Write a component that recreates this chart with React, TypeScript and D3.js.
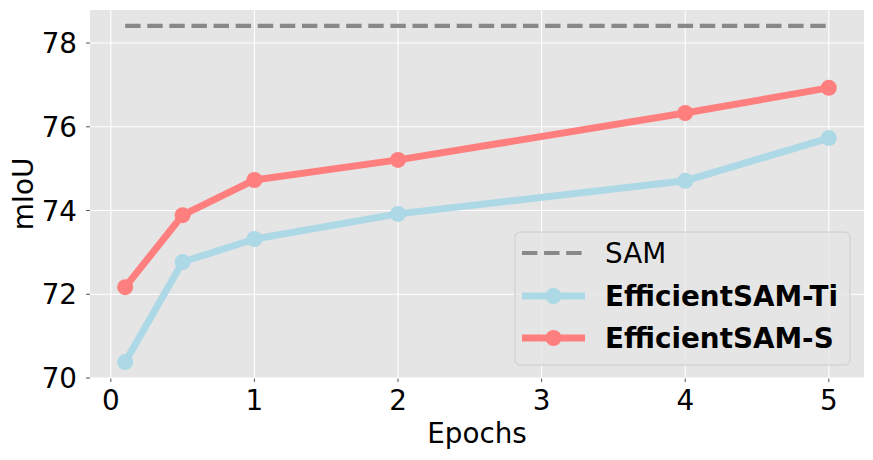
import React from "react";
import * as d3 from "d3";

const epochs = [0.1, 0.5, 1, 2, 4, 5];
const tiValues = [70.38, 72.77, 73.32, 73.92, 74.71, 75.73];
const sValues = [72.17, 73.89, 74.73, 75.21, 76.33, 76.93];
const samValue = 78.41;
const xTicks = [0, 1, 2, 3, 4, 5];
const yTicks = [70, 72, 74, 76, 78];

const W = 873, H = 460;
const L = 90, R = 864, T = 10, B = 378;

export default function App() {
  const x = d3.scaleLinear().domain([-0.145, 5.245]).range([L, R]);
  const y = d3.scaleLinear().domain([70, 78.79]).range([B, T]);
  const line = d3.line<number>().x((_, i) => x(epochs[i])).y((d) => y(d));
  const font = "DejaVu Sans, sans-serif";
  const series = [
    { name: "EfficientSAM-Ti", values: tiValues, color: "#add8e6" },
    { name: "EfficientSAM-S", values: sValues, color: "#ff7f7f" },
  ];
  return (
    <svg width={W} height={H} style={{ display: "block", position: "absolute", left: 0, top: 0 }} fontFamily={font}>
      <rect x={0} y={0} width={W} height={H} fill="#fff" />
      <rect x={L} y={T} width={R - L} height={B - T} fill="#e5e5e5" />
      {xTicks.map((t) => (
        <g key={"x" + t}>
          <line x1={x(t)} x2={x(t)} y1={T} y2={B} stroke="#fff" strokeWidth={1.1} />
          <line x1={x(t)} x2={x(t)} y1={B} y2={B + 4} stroke="#555" strokeWidth={1} />
          <text x={x(t)} y={410} textAnchor="middle" fontSize={27.8} fill="#000">{t}</text>
        </g>
      ))}
      {yTicks.map((t) => (
        <g key={"y" + t}>
          <line x1={L} x2={R} y1={y(t)} y2={y(t)} stroke="#fff" strokeWidth={1.1} />
          <line x1={L - 4} x2={L} y1={y(t)} y2={y(t)} stroke="#555" strokeWidth={1} />
          <text x={77} y={y(t)} dy="0.36em" textAnchor="end" fontSize={27.8} fill="#000">{t}</text>
        </g>
      ))}
      <line x1={x(0.1)} x2={x(5)} y1={y(samValue)} y2={y(samValue)} stroke="#888" strokeWidth={4.2} strokeDasharray="15.4 6.7" />
      {series.map((s) => (
        <g key={s.name}>
          <path d={line(s.values) || ""} fill="none" stroke={s.color} strokeWidth={7} strokeLinejoin="round" />
          {s.values.map((v, i) => (
            <circle key={i} cx={x(epochs[i])} cy={y(v)} r={8} fill={s.color} />
          ))}
        </g>
      ))}
      <text x={477} y={443} textAnchor="middle" fontSize={27.8} fill="#000">Epochs</text>
      <text transform={`translate(33,${(T + B) / 2}) rotate(-90)`} textAnchor="middle" fontSize={27.8} fill="#000">mIoU</text>
      <g>
        <rect x={515} y={232} width={335} height={133} rx={5} fill="#e5e5e5" fillOpacity={0.8} stroke="#cccccc" strokeWidth={1} />
        <line x1={522} x2={585} y1={253} y2={253} stroke="#888" strokeWidth={4.2} strokeDasharray="15.4 6.7" />
        <text x={605} y={253} dy="0.36em" fontSize={27.8} fill="#000">SAM</text>
        {series.map((s, i) => (
          <g key={"lg" + s.name}>
            <line x1={522} x2={585} y1={296 + i * 42} y2={296 + i * 42} stroke={s.color} strokeWidth={7} />
            <circle cx={553.5} cy={296 + i * 42} r={8} fill={s.color} />
            <text x={605} y={296 + i * 42} dy="0.36em" fontSize={27.8} fontWeight="bold" fill="#000">{s.name}</text>
          </g>
        ))}
      </g>
    </svg>
  );
}
